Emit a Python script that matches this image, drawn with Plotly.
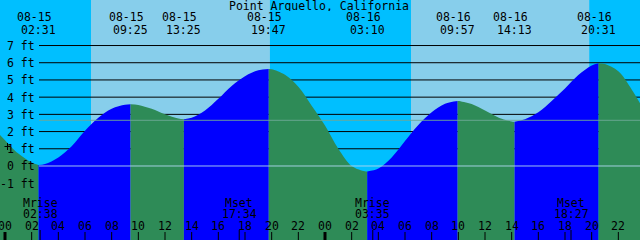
import plotly.graph_objects as go

title = "Point Arguello, California"

# tide heights (ft), hours since 08-15 00:00
hours = [-0.375, 0, 1, 2, 2.517, 3, 4, 5, 6, 7, 8, 9, 9.417, 10, 11, 12, 13, 13.417,
         14, 15, 16, 17, 18, 19, 19.783, 20, 21, 22, 23, 24, 25, 26, 27, 27.167,
         28, 29, 30, 31, 32, 33, 33.95, 34, 35, 36, 37, 38, 38.217,
         39, 40, 41, 42, 43, 44, 44.517, 45, 46, 47, 47.625]
heights = [1.80, 1.50, 0.72, 0.20, 0.06, 0.12, 0.50, 1.15, 2.05, 2.80, 3.33, 3.56, 3.59,
           3.55, 3.32, 3.00, 2.76, 2.72,
           2.80, 3.22, 3.90, 4.65, 5.22, 5.56, 5.64, 5.62, 5.30, 4.60, 3.50, 2.35, 1.00, 0.00, -0.31, -0.32,
           -0.15, 0.50, 1.45, 2.38, 3.12, 3.62, 3.78, 3.78, 3.60, 3.22, 2.82, 2.59, 2.57,
           2.72, 3.12, 3.78, 4.50, 5.28, 5.84, 5.97, 5.92, 5.50, 4.45, 3.65]

tide_event_hours = [2.517, 9.417, 13.417, 19.783, 27.167, 33.95, 38.217, 44.517]
tide_event_dates = ["08-15", "08-15", "08-15", "08-15", "08-16", "08-16", "08-16", "08-16"]
tide_event_times = ["02:31", "09:25", "13:25", "19:47", "03:10", "09:57", "14:13", "20:31"]

moon_event_hours = [2.633, 17.567, 27.583, 42.45]
moon_event_names = ["Mrise", "Mset", "Mrise", "Mset"]
moon_event_times = ["02:38", "17:34", "03:35", "18:27"]

sunrise_hours = [6.45, 30.45]
sunset_hours = [19.87, 43.82]

hour_ticks = [0, 2, 4, 6, 8, 10, 12, 14, 16, 18, 20, 22,
              24, 26, 28, 30, 32, 34, 36, 38, 40, 42, 44, 46, 48]
hour_tick_labels = ["00", "02", "04", "06", "08", "10", "12", "14", "16", "18", "20", "22",
                    "00", "02", "04", "06", "08", "10", "12", "14", "16", "18", "20", "22", "00"]
midnight_ticks = [0, 24]

ft_ticks = [-1, 0, 1, 2, 3, 4, 5, 6, 7]
ft_labels = ["-1 ft", "0 ft", "1 ft", "2 ft", "3 ft", "4 ft", "5 ft", "6 ft", "7 ft"]
mean_level = 2.655

NIGHT = "#00BFFF"
DAY = "#87CEEB"
FLOOD = "#0000FF"
EBB = "#2E8B57"
FONT = dict(family="DejaVu Sans Mono", size=11.5, color="black")

W, H = 640, 240
X_RANGE = [-0.375, 47.625]
Y_RANGE = [-4.30, 9.645]
Y_BASE = Y_RANGE[0] - 1
BOX_H = 11

fig = go.Figure()

bounds = [hours[0]] + tide_event_hours + [hours[-1]]
for i in range(len(bounds) - 1):
    a, b = bounds[i], bounds[i + 1]
    xs = [h for h in hours if a - 1e-9 <= h <= b + 1e-9]
    ys = [heights[hours.index(h)] for h in xs]
    color = FLOOD if ys[-1] > ys[0] else EBB
    fig.add_trace(go.Scatter(x=[a, b], y=[Y_BASE, Y_BASE], mode="lines",
                             line=dict(width=0, color=color), hoverinfo="skip", showlegend=False))
    fig.add_trace(go.Scatter(x=xs, y=ys, mode="lines", line=dict(width=0, color=color, shape="spline"),
                             fill="tonexty", fillcolor=color, hoverinfo="skip", showlegend=False))

shapes = []
for sr, ss in zip(sunrise_hours, sunset_hours):
    shapes.append(dict(type="rect", xref="x", yref="paper", x0=sr, x1=ss, y0=0, y1=1,
                       fillcolor=DAY, line=dict(width=0), layer="below"))
for ft in ft_ticks:
    if ft >= 1:
        shapes.append(dict(type="line", xref="paper", yref="y", x0=39 / W, x1=1, y0=ft, y1=ft,
                           line=dict(color="black", width=1), layer="below"))
shapes.append(dict(type="line", xref="paper", yref="y", x0=39 / W, x1=1, y0=0, y1=0,
                   line=dict(color="rgba(175,215,240,0.9)", width=1), layer="above"))
shapes.append(dict(type="line", xref="paper", yref="y", x0=39 / W, x1=1, y0=mean_level, y1=mean_level,
                   line=dict(color="rgba(110,168,150,0.9)", width=1), layer="above"))
for h in hour_ticks:
    shapes.append(dict(type="line", xref="x", yref="paper", x0=h, x1=h, y0=0, y1=8 / H,
                       line=dict(color="black", width=3 if h in midnight_ticks else 1), layer="above"))
for h in moon_event_hours:
    shapes.append(dict(type="line", xref="x", yref="paper", x0=h, x1=h, y0=0, y1=10 / H,
                       line=dict(color="black", width=1), layer="above"))
# small cross mark at the left edge
shapes.append(dict(type="line", xref="paper", yref="paper", x0=4.5 / W, x1=10.5 / W,
                   y0=1 - 146.5 / H, y1=1 - 146.5 / H, line=dict(color="black", width=1), layer="above"))
shapes.append(dict(type="line", xref="paper", yref="paper", x0=7.5 / W, x1=7.5 / W,
                   y0=1 - 143 / H, y1=1 - 150 / H, line=dict(color="black", width=1), layer="above"))


def label(text, x, y, xref="x", yref="paper", xanchor="center", xshift=0):
    return dict(text=text, xref=xref, yref=yref, x=x, y=y, xshift=xshift, height=BOX_H,
                xanchor=xanchor, yanchor="middle", showarrow=False, font=FONT)


ann = [label(title, 319 / W, 1 - 5.5 / H, xref="paper")]
for h, d, t in zip(tide_event_hours, tide_event_dates, tide_event_times):
    ann.append(label(d, h, 1 - 17 / H, xshift=-4))
    ann.append(label(t, h, 1 - 29 / H))
for h, n, t in zip(moon_event_hours, moon_event_names, moon_event_times):
    ann.append(label(n, h, 1 - 202 / H))
    ann.append(label(t, h, 1 - 213 / H))
for h, lab in zip(hour_ticks, hour_tick_labels):
    ann.append(label(lab, h, 1 - 225.5 / H))
for ft, lab in zip(ft_ticks, ft_labels):
    ann.append(label(lab, 36.5 / W, ft, xref="paper", yref="y", xanchor="right"))

fig.update_layout(
    width=W, height=H, margin=dict(l=0, r=0, t=0, b=0),
    plot_bgcolor=NIGHT, paper_bgcolor=NIGHT,
    xaxis=dict(range=X_RANGE, visible=False, fixedrange=True),
    yaxis=dict(range=Y_RANGE, visible=False, fixedrange=True),
    shapes=shapes, annotations=ann, showlegend=False,
)
fig.write_html("out.html", config={"displayModeBar": False})
